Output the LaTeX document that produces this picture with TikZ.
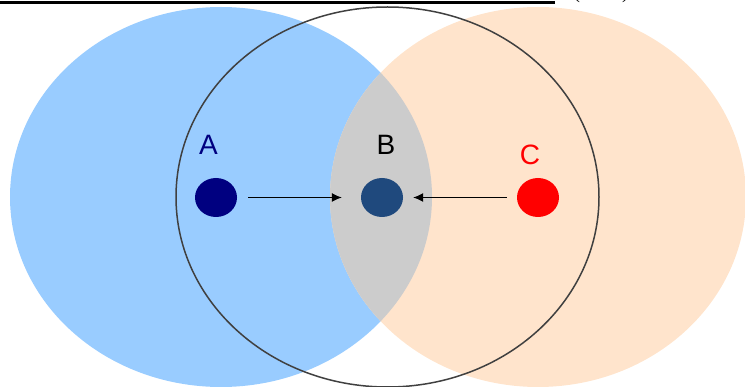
\documentclass[tikz,border=0pt]{standalone}
\usepackage{fontspec}
\setmainfont{Liberation Sans}
\newfontfamily\serifparen{Liberation Serif}
\usetikzlibrary{arrows.meta,shapes.geometric}
\definecolor{setblue}{RGB}{153,204,255}
\definecolor{setpeach}{RGB}{255,228,204}
\definecolor{lensgray}{RGB}{204,204,204}
\definecolor{navyA}{RGB}{0,0,128}
\definecolor{dotB}{RGB}{31,73,125}
\definecolor{ringgray}{RGB}{64,64,64}
\tikzset{
  dotnode/.style={ellipse, minimum width=42pt, minimum height=39pt, inner sep=0pt, draw=none},
  lbl/.style={font=\fontsize{28}{28}\selectfont, inner sep=0pt, anchor=base},
  arr/.style={-{Latex[length=10pt,width=9pt]}, line width=1pt, black},
}
\begin{document}
\begin{tikzpicture}[x=1pt,y=-1pt]
\useasboundingbox (0,0) rectangle (745,387);
% sets
\fill[setblue] (221,197) ellipse [x radius=211, y radius=190];
\fill[setpeach] (538,197) ellipse [x radius=208, y radius=190];
\begin{scope}
  \clip (221,197) ellipse [x radius=211, y radius=190];
  \fill[lensgray] (538,197) ellipse [x radius=208, y radius=190];
\end{scope}
% ring
\draw[ringgray, line width=1.5pt] (387.5,197) ellipse [x radius=211.5, y radius=190];
% top rule and clipped parentheses
\draw[black, line width=2.5pt] (0,2.5) -- (555,2.5);
\node[inner sep=0pt, anchor=south, font=\serifparen\fontsize{20}{20}\selectfont] (par) at (601,3) {(\hspace{42pt})};
% dots
\node[dotnode, fill=navyA] (A) at (216,197.5) {};
\node[dotnode, fill=dotB] (B) at (382,197.5) {};
\node[dotnode, fill=red] (C) at (538,197.5) {};
% arrows
\draw[arr, shorten <=11pt, shorten >=19pt] (A) -- (B);
\draw[arr, shorten <=10pt, shorten >=10pt] (C) -- (B);
% labels
\node[lbl, text=navyA] (la) at (208.5,155) {A};
\node[lbl, text=black] (lb) at (386,155) {B};
\node[lbl, text=red] (lc) at (530,164.5) {C};
\end{tikzpicture}
\end{document}
